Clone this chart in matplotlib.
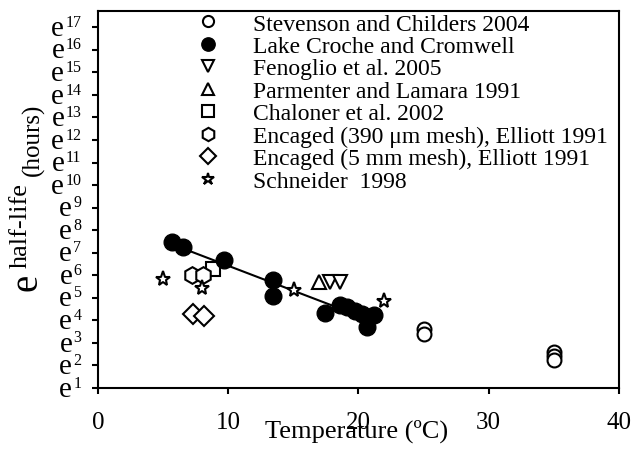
import numpy as np
from matplotlib import pyplot as plt

plt.rcParams['font.family'] = ['Liberation Serif', 'DejaVu Serif']

# temperature (C) and ln(half-life, hours)
stev_t = [25, 25, 35, 35, 35]
stev_y = [3.62, 3.40, 2.58, 2.40, 2.25]
lake_t = [5.67, 6.51, 9.64, 13.44, 13.44, 17.46, 18.56, 19.13, 19.77, 20.28, 20.67, 21.18]
lake_y = [7.46, 7.24, 6.68, 5.79, 5.10, 4.32, 4.70, 4.58, 4.43, 4.28, 3.70, 4.25]
feno_t = [17.85, 18.56]
feno_y = [5.68, 5.68]
parm_t = [16.95]
parm_y = [5.68]
chal_t = [8.85]
chal_y = [6.26]
enc390_t = [7.2, 8.1]
enc390_y = [6.02, 6.0]
enc5_t = [7.3, 8.15]
enc5_y = [4.29, 4.18]
schn_t = [5.0, 7.97, 15.03, 21.95]
schn_y = [5.85, 5.44, 5.35, 4.88]

yticks = list(range(1, 18))

W, H = 634, 456
fig = plt.figure(dpi=100, figsize=(W / 100, H / 100))
ax = fig.add_axes([0.1546, 0.147, 0.8215, 0.8265])

slope, icept = np.polyfit(lake_t, lake_y, 1)
xs = np.array([min(lake_t), max(lake_t)])
ax.plot(xs, icept + slope * xs, c='black', lw=1.5, zorder=2)

opn = dict(ls='none', mfc='white', mec='black', mew=1.5, zorder=3)
ax.plot(stev_t, stev_y, 'o', ms=10, label='Stevenson and Childers 2004', **opn)
ax.plot(lake_t, lake_y, 'o', ms=12, ls='none', mfc='black', mec='black',
        zorder=4, label='Lake Croche and Cromwell')
ax.plot(feno_t, feno_y, 'v', ms=10, label='Fenoglio et al. 2005', **opn)
ax.plot(parm_t, parm_y, '^', ms=10, label='Parmenter and Lamara 1991', **opn)
ax.plot(chal_t, chal_y, 's', ms=10, label='Chaloner et al. 2002', **opn)
ax.plot(enc390_t, enc390_y, 'h', ms=12, label='Encaged (390 μm mesh), Elliott 1991', **opn)
ax.plot(enc5_t, enc5_y, 'D', ms=10, label='Encaged (5 mm mesh), Elliott 1991', **opn)
ax.plot(schn_t, schn_y, '*', ms=11, label='Schneider  1998', **opn)

ax.set_xlim(0, 40)
ax.set_ylim(1, 17.72)
ax.set_xticks([0, 10, 20, 30, 40])
ax.set_yticks(yticks)
ax.set_yticklabels([])
ax.tick_params(axis='both', which='major', direction='out', length=4, width=1.5)
ax.tick_params(axis='x', labelsize=18, pad=12.5)
for s in ax.spines.values():
    s.set_linewidth(1.5)

# y tick labels: large "e" with small superscript exponent
r = fig.canvas.get_renderer()
for v in yticks:
    sup = ax.annotate(str(v), xy=(0, v), xycoords=('axes fraction', 'data'),
                      xytext=(-12, 1.0), textcoords='offset points',
                      ha='right', va='baseline', fontsize=11.5)
    w = sup.get_window_extent(r).width * 0.72
    ax.annotate('e', xy=(0, v), xycoords=('axes fraction', 'data'),
                xytext=(-12 - w - 0.8, -5.5), textcoords='offset points',
                ha='right', va='baseline', fontsize=21)

ax.set_xlabel('Temperature (ºC)', fontsize=19, va='baseline')
ax.xaxis.set_label_coords(0.497, -0.13)

# y label: e^(half-life) (hours)
lab = dict(rotation=90, rotation_mode='anchor', ha='left', va='baseline')
fig.text(37 / W, 1 - 291 / H, 'e', fontsize=28, **lab)
fig.text(27 / W, 1 - 268 / H, 'half-life', fontsize=19, **lab)
fig.text(39 / W, 1 - 176 / H, '(hours)', fontsize=18, **lab)

ax.legend(loc='upper left', bbox_to_anchor=(0.17, 1.02), frameon=False,
          fontsize=17, markerscale=0.8, handlelength=1.0, handletextpad=1.4,
          labelspacing=0.04, borderaxespad=0.0)

plt.savefig('out.png')
